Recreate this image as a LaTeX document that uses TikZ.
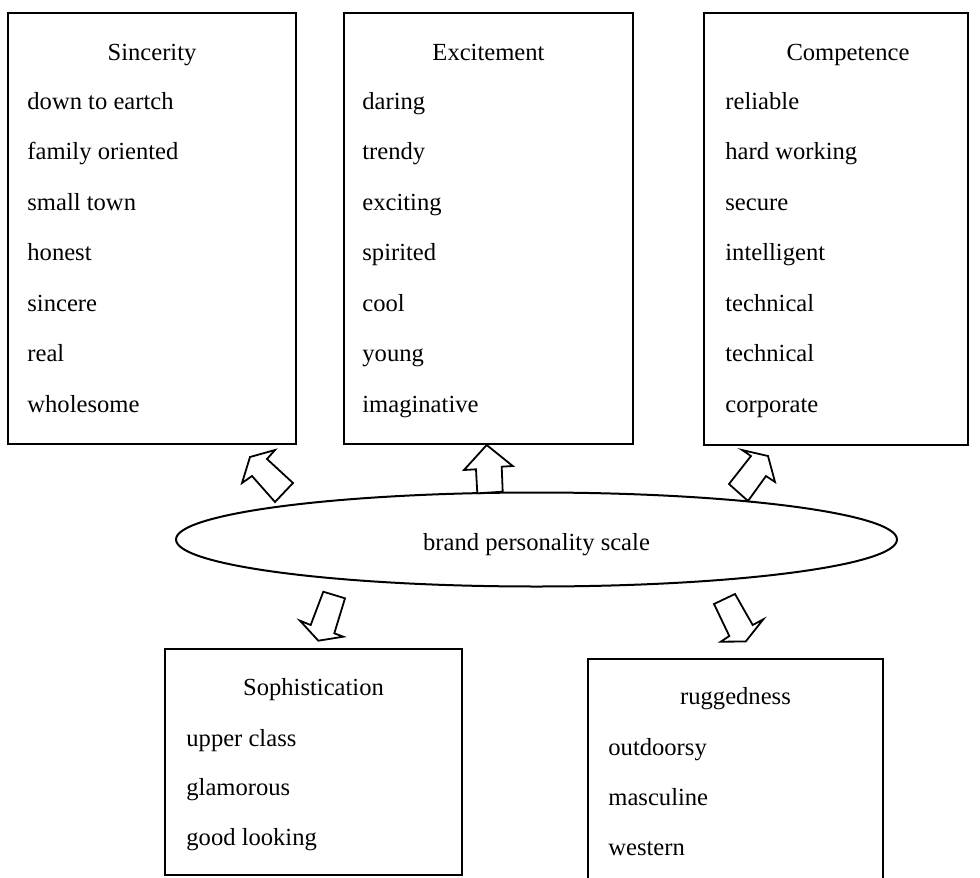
\documentclass[tikz,border=0pt]{standalone}
\usepackage{fontspec}
\setmainfont{Liberation Serif}
\usetikzlibrary{shapes.geometric,fit}
\tikzset{
  panel/.style={draw, line width=1pt, inner sep=0pt},
  item/.style={anchor=base west, inner sep=0pt},
  heading/.style={anchor=base, inner sep=0pt},
  blockarrow/.style={draw, line width=0.9pt, line join=miter, fill=white},
}
\begin{document}
\begin{tikzpicture}[x=0.5pt,y=-0.5pt,font=\fontsize{12.3}{14}\selectfont]
\useasboundingbox (0,0) rectangle (980,878);

% trait panels
\node[panel, fit={(8,13) (296,444)}] (sincerity) {};
\node[panel, fit={(344,13) (633,444)}] (excitement) {};
\node[panel, fit={(704,13) (968,445)}] (competence) {};
\node[panel, fit={(165,649) (462,875)}] (sophistication) {};
\node[panel, fit={(588,659) (883,890)}] (ruggedness) {};

% panel headings
\node[heading] (hs) at (152,60) {Sincerity};
\node[heading] (he) at (488.5,60) {Excitement};
\node[heading] (hc) at (848,60) {Competence};
\node[heading] (hp) at (313.5,695) {Sophistication};
\node[heading] (hr) at (735.5,704) {ruggedness};

% trait lists
\foreach \t [count=\i from 0] in {down to eartch, family oriented, small town, honest, sincere, real, wholesome}
  \node[item] (s\i) at (27,{109+50.5*\i}) {\t};
\foreach \t [count=\i from 0] in {daring, trendy, exciting, spirited, cool, young, imaginative}
  \node[item] (e\i) at (362,{109+50.5*\i}) {\t};
\foreach \t [count=\i from 0] in {reliable, hard working, secure, intelligent, technical, technical, corporate}
  \node[item] (c\i) at (725,{109+50.5*\i}) {\t};
\foreach \t [count=\i from 0] in {upper class, glamorous, good looking}
  \node[item] (p\i) at (186,{746+49.5*\i}) {\t};
\foreach \t [count=\i from 0] in {outdoorsy, masculine, western}
  \node[item] (r\i) at (608,{755+50*\i}) {\t};

% central scale
\node[draw, ellipse, line width=1pt, inner sep=0pt,
      minimum width=360.5pt, minimum height=47pt] (bps) at (536.5,539.5) {};
\node[heading] (bpslabel) at (536.5,550) {brand personality scale};

% block arrows
\draw[blockarrow] (250,457) -- (275,450) -- (267,459) -- (293,483) -- (275,502)
  -- (252,476) -- (242,483) -- cycle;
\draw[blockarrow] (486.7,445) -- (512.7,466) -- (501.7,466.7) -- (502.7,491.7)
  -- (477.3,493.3) -- (476,469.3) -- (464,470) -- cycle;
\draw[blockarrow] (768,456) -- (775,482) -- (766,476) -- (748,501) -- (729,484)
  -- (751,456) -- (742,450) -- cycle;
\draw[blockarrow] (323.3,591.7) -- (345,598.3) -- (334.3,633.3) -- (343.3,636.7)
  -- (318.3,640.7) -- (300,620.7) -- (310.7,625) -- cycle;
\draw[blockarrow] (714,604) -- (735,594) -- (752.7,625) -- (763.3,619.3)
  -- (745.7,641.5) -- (720.7,641.7) -- (729.3,636) -- cycle;
\end{tikzpicture}
\end{document}
